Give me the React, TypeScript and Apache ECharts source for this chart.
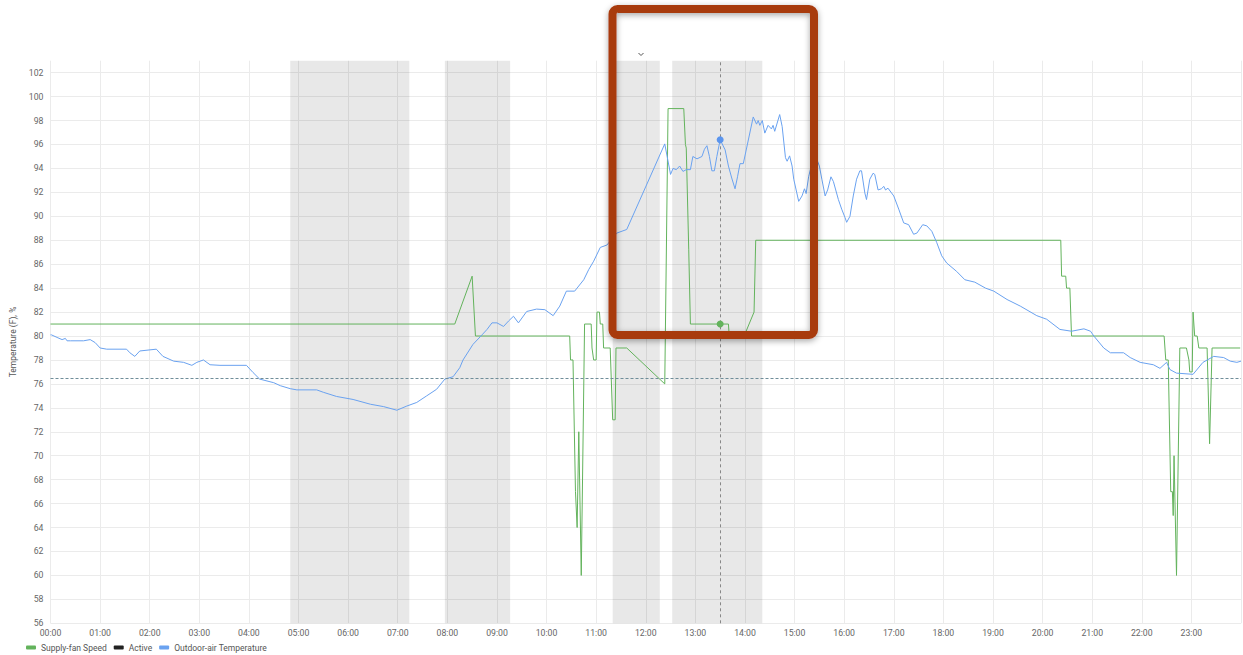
import React, { useEffect, useRef } from "react";
import * as echarts from "echarts";

// ---- data ----
const fanTimes = [
  "00:00", "08:09", "08:30", "08:34", "10:28", "10:29", "10:32", "10:35", "10:37", "10:39",
  "10:42", "10:46", "10:54", "10:55", "10:57", "11:00", "11:01", "11:04", "11:05", "11:08",
  "11:09", "11:17", "11:20", "11:23", "11:24", "11:37", "12:23", "12:27", "12:46", "12:48",
  "12:49", "12:52", "12:54", "13:40", "13:41", "13:59", "14:11", "14:13", "20:22", "20:23",
  "20:28", "20:29", "20:33", "20:35", "22:27", "22:29", "22:32", "22:35", "22:37", "22:38",
  "22:39", "22:42", "22:46", "22:54", "22:57", "22:58", "23:01", "23:02", "23:04", "23:07",
  "23:09", "23:19", "23:22", "23:25", "23:59",
];
const fanValues = [
  81, 81, 85, 80, 80, 78, 78, 67, 64, 72,
  60, 81, 81, 79, 78, 78, 82, 82, 81, 81,
  79, 79, 73, 73, 79, 79, 76, 99, 99, 96,
  95.7, 87.2, 81, 81, 80, 80, 82, 88, 88, 85,
  85, 84, 84, 80, 80, 78, 78, 67, 67, 65,
  70, 60, 79, 79, 78, 77, 77, 82, 80, 80,
  79, 79, 71, 79, 79,
];

const oatTimes = [
  "00:00", "00:01", "00:09", "00:14", "00:18", "00:20", "00:24", "00:40", "00:48", "00:54",
  "01:00", "01:08", "01:32", "01:36", "01:42", "01:48", "02:08", "02:16", "02:29", "02:41",
  "02:51", "02:57", "03:05", "03:13", "03:25", "03:57", "04:05", "04:13", "04:30", "04:38",
  "04:50", "04:58", "05:22", "05:30", "05:46", "06:06", "06:27", "06:43", "06:59", "07:11",
  "07:23", "07:35", "07:47", "07:57", "08:07", "08:15", "08:19", "08:31", "08:42", "08:48",
  "08:54", "09:00", "09:08", "09:14", "09:20", "09:26", "09:36", "09:48", "09:58", "10:08",
  "10:16", "10:24", "10:34", "10:45", "10:51", "10:57", "11:05", "11:13", "11:25", "11:37",
  "12:23", "12:30", "12:33", "12:37", "12:41", "12:45", "12:49", "12:54", "12:57", "13:02",
  "13:08", "13:11", "13:14", "13:17", "13:20", "13:23", "13:26", "13:30", "13:36", "13:40",
  "13:44", "13:48", "13:51", "13:54", "13:58", "14:10", "14:14", "14:16", "14:18", "14:21",
  "14:24", "14:28", "14:32", "14:34", "14:36", "14:42", "14:45", "14:49", "14:51", "14:54",
  "14:57", "14:59", "15:05", "15:09", "15:12", "15:14", "15:17", "15:24", "15:30", "15:33",
  "15:37", "15:40", "15:44", "15:47", "15:53", "15:57", "16:01", "16:03", "16:07", "16:11",
  "16:15", "16:19", "16:21", "16:25", "16:27", "16:31", "16:35", "16:37", "16:41", "16:45",
  "16:48", "16:50", "16:53", "17:00", "17:06", "17:12", "17:18", "17:24", "17:28", "17:35",
  "17:40", "17:46", "17:52", "17:58", "18:04", "18:16", "18:26", "18:38", "18:51", "19:01",
  "19:17", "19:33", "19:53", "20:05", "20:21", "20:35", "20:50", "20:58", "21:02", "21:14",
  "21:22", "21:38", "21:46", "21:58", "22:14", "22:22", "22:30", "22:34", "22:42", "23:02",
  "23:14", "23:27", "23:39", "23:47", "23:55", "24:00",
];
const oatValues = [
  80.1, 80.1, 79.85, 79.7, 79.8, 79.6, 79.6, 79.6, 79.7, 79.45,
  79.0, 78.9, 78.9, 78.6, 78.3, 78.75, 78.9, 78.3, 77.9, 77.8,
  77.55, 77.8, 78.0, 77.6, 77.55, 77.55, 76.95, 76.4, 76.1, 75.85,
  75.6, 75.5, 75.5, 75.3, 74.95, 74.7, 74.3, 74.1, 73.8, 74.15,
  74.45, 75.0, 75.55, 76.4, 76.6, 77.35, 78.0, 79.3, 80.1, 80.55,
  81.1, 81.1, 80.8, 81.25, 81.65, 81.1, 82.05, 82.25, 82.2, 81.7,
  82.5, 83.75, 83.75, 84.7, 85.55, 86.25, 87.4, 87.6, 88.6, 88.9,
  96.05, 93.5, 94.0, 93.9, 94.2, 93.75, 93.9, 93.9, 95.0, 94.8,
  95.0, 95.6, 95.9, 95.0, 93.8, 93.8, 95.0, 96.4, 95.55, 94.2,
  93.2, 92.3, 93.3, 94.4, 94.4, 98.3, 97.7, 98.0, 97.6, 98.0,
  96.95, 97.6, 97.3, 97.6, 97.1, 98.5, 97.5, 94.9, 94.6, 95.05,
  94.2, 93.1, 91.25, 91.7, 92.3, 91.9, 93.3, 95.3, 94.2, 93.1,
  91.7, 92.2, 93.3, 92.9, 91.4, 90.6, 89.9, 89.5, 90.0, 91.7,
  93.1, 93.8, 93.8, 91.95, 91.4, 93.1, 93.6, 93.5, 92.2, 92.3,
  92.5, 92.2, 92.35, 91.7, 90.6, 89.45, 89.3, 88.5, 88.6, 89.3,
  89.2, 88.75, 87.8, 86.7, 86.1, 85.4, 84.7, 84.5, 84.0, 83.75,
  83.05, 82.5, 81.7, 81.4, 80.55, 80.4, 80.6, 80.4, 80.0, 79.0,
  78.6, 78.6, 78.2, 77.8, 77.6, 77.3, 77.8, 77.2, 76.9, 76.8,
  77.8, 78.3, 78.2, 77.9, 77.8, 77.9,
];

const activeStarts = ["04:50", "07:57", "11:20", "12:32"];
const activeEnds = ["07:14", "09:16", "12:17", "14:21"];

const thresholdValue = 76.5;
const cursorTime = "13:30";
const cursorFan = 81;
const cursorOat = 96.4;

const yMin = 56;
const yMax = 103;
const yStep = 2;

const FAN_COLOR = "#63b35c";
const ACTIVE_COLOR = "#222222";
const OAT_COLOR = "#6aa2f0";

const toMin = (s: string) => {
  const [h, m] = s.split(":").map(Number);
  return h * 60 + m;
};
const fmt = (v: number) => {
  const h = Math.floor(v / 60);
  const m = Math.round(v % 60);
  return `${String(h).padStart(2, "0")}:${String(m).padStart(2, "0")}`;
};

export default function App() {
  const ref = useRef<HTMLDivElement>(null);

  useEffect(() => {
    document.body.style.margin = "0";
    if (!ref.current) return;
    const chart = echarts.init(ref.current, undefined, { renderer: "svg" });

    const fanData = fanTimes.map((t, i) => [toMin(t), fanValues[i]]);
    const oatData = oatTimes.map((t, i) => [toMin(t), oatValues[i]]);
    const bands = activeStarts.map((s, i) => [
      { xAxis: toMin(s) },
      { xAxis: toMin(activeEnds[i]) },
    ]);
    const cursor = toMin(cursorTime);

    const font = "Roboto, 'Noto Sans', sans-serif";

    chart.setOption({
      animation: false,
      textStyle: { fontFamily: font },
      grid: { left: 50.5, right: 2, top: 60.7, bottom: 31.7 },
      legend: {
        data: ["Supply-fan Speed", "Active", "Outdoor-air Temperature"],
        left: 21,
        top: 638,
        icon: "roundRect",
        itemWidth: 10,
        itemHeight: 4,
        itemGap: 7,
        textStyle: { fontSize: 8.5, color: "#555", fontFamily: font },
      },
      xAxis: {
        type: "value",
        min: 0,
        max: 1440,
        interval: 60,
        axisLine: { show: false },
        axisTick: { show: false },
        axisLabel: {
          formatter: (v: number) => fmt(v),
          showMaxLabel: false,
          fontSize: 8.7,
          color: "#666",
          margin: 5,
          fontFamily: font,
        },
        splitLine: { show: true, lineStyle: { color: "#ebebeb", width: 1 } },
      },
      yAxis: {
        type: "value",
        min: yMin,
        max: yMax,
        interval: yStep,
        name: "Temperature (F), %",
        nameLocation: "middle",
        nameGap: 32,
        nameTextStyle: { fontSize: 8.5, color: "#555", fontFamily: font },
        axisLine: { show: false },
        axisTick: { show: false },
        axisLabel: {
          showMaxLabel: false,
          fontSize: 8.7,
          color: "#666",
          margin: 7,
          fontFamily: font,
        },
        splitLine: {
          show: true,
          showMaxLine: false,
          lineStyle: { color: "#ebebeb", width: 1 },
        },
      },
      series: [
        {
          name: "Supply-fan Speed",
          type: "line",
          data: fanData,
          showSymbol: false,
          color: FAN_COLOR,
          lineStyle: { width: 1, color: FAN_COLOR },
          z: 3,
          markPoint: {
            symbol: "circle",
            symbolSize: 7,
            itemStyle: { color: FAN_COLOR },
            label: { show: false },
            data: [{ coord: [cursor, cursorFan] }],
          },
        },
        {
          name: "Active",
          type: "line",
          data: [],
          color: ACTIVE_COLOR,
          showSymbol: false,
          lineStyle: { width: 1, color: ACTIVE_COLOR },
        },
        {
          name: "Outdoor-air Temperature",
          type: "line",
          data: oatData,
          showSymbol: false,
          color: OAT_COLOR,
          lineStyle: { width: 1, color: OAT_COLOR },
          z: 4,
          markArea: {
            silent: true,
            itemStyle: { color: "rgba(0,0,0,0.09)" },
            label: { show: false },
            data: bands,
          },
          markLine: {
            silent: true,
            symbol: "none",
            label: { show: false },
            data: [
              {
                yAxis: thresholdValue,
                lineStyle: { color: "#6f8d99", type: [3, 2], width: 1 },
              },
              {
                xAxis: cursor,
                lineStyle: { color: "#888", type: [3, 3], width: 1 },
              },
            ],
          },
          markPoint: {
            symbol: "circle",
            symbolSize: 7,
            itemStyle: { color: "#5b95ee" },
            label: { show: false },
            data: [{ coord: [cursor, cursorOat] }],
          },
        },
      ],
      graphic: [
        {
          type: "polyline",
          shape: { points: [[638.5, 53], [641, 55.5], [643.5, 53]] },
          style: { stroke: "#555", lineWidth: 1, fill: null },
          z: 50,
        },
        {
          type: "rect",
          shape: { x: 612.5, y: 9, width: 201.5, height: 326, r: 5 },
          style: {
            fill: null,
            stroke: "#a83a10",
            lineWidth: 8,
            shadowBlur: 6,
            shadowColor: "rgba(0,0,0,0.35)",
            shadowOffsetY: 2,
          },
          z: 100,
        },
      ],
    });

    return () => chart.dispose();
  }, []);

  return <div ref={ref} style={{ width: 1243, height: 655 }} />;
}
